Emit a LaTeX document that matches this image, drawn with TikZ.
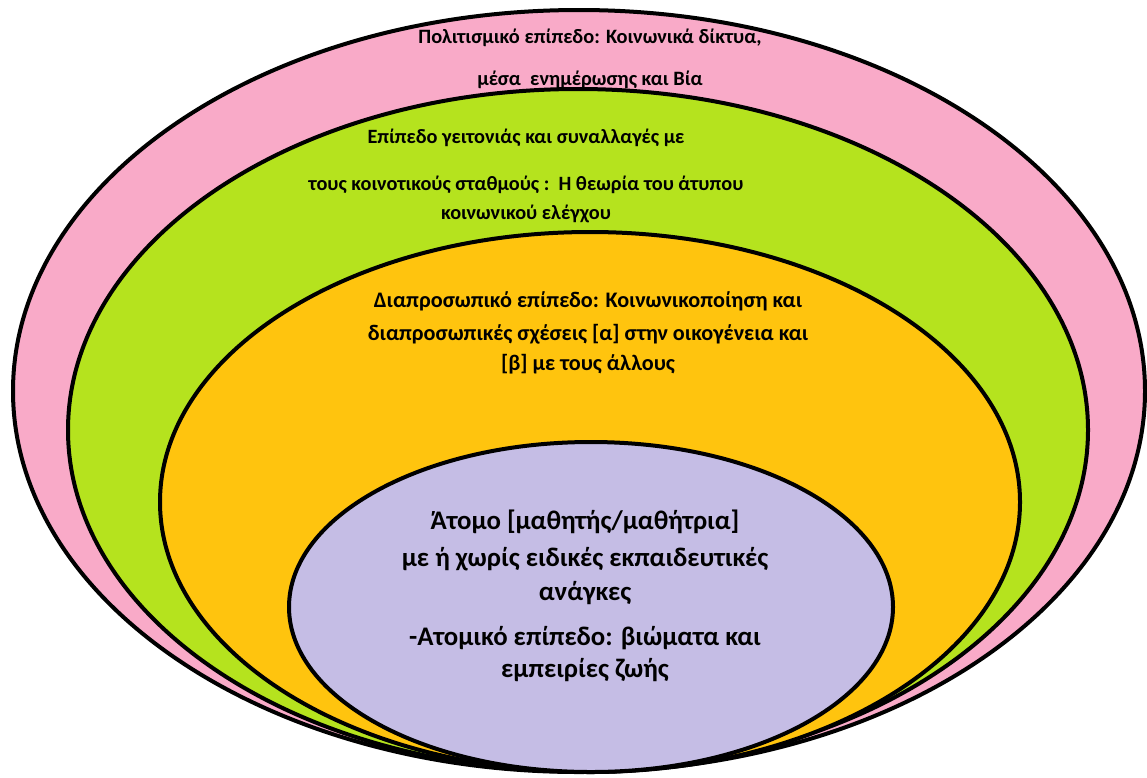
\documentclass[tikz,border=0pt]{standalone}
\usepackage{fontspec}
\setmainfont{Carlito}
\usetikzlibrary{positioning,calc}
\definecolor{culture}{RGB}{249,170,200}
\definecolor{neighbour}{RGB}{181,227,30}
\definecolor{personal}{RGB}{255,196,14}
\definecolor{pupil}{RGB}{197,189,229}
\tikzset{
  ring/.style={draw=black,line width=4pt},
  label/.style={align=center,inner sep=0pt,font=\bfseries}
}
\begin{document}
\begin{tikzpicture}[x=1pt,y=-1pt]
                \useasboundingbox (0,0) rectangle (1147,777);
                % draw the four levels, outer one first
                \foreach \cx/\cy/\rx/\ry/\col in {579/391/566/381/culture,
                                                  578/430/510/341/neighbour,
                                                  590/502/430/270/personal,
                                                  591/607/302/165/pupil}
                \draw[ring,fill=\col] (\cx,\cy) ellipse (\rx pt and \ry pt);
                % draw texts
                \node[label,anchor=north,font=\bfseries\fontsize{20.4}{24.5}\selectfont] (culturetext) at (590,29)
                     {Πολιτισμικό επίπεδο: Κοινωνικά δίκτυα,\\[17pt] μέσα\ \ ενημέρωσης και Βία};
                \node[label,anchor=north,font=\bfseries\fontsize{20.3}{24.4}\selectfont] (neighbourtext) at (526,129)
                     {Επίπεδο γειτονιάς και συναλλαγές με\\[22.6pt] τους κοινοτικούς σταθμούς :\ \ Η θεωρία του άτυπου\\[4pt] κοινωνικού ελέγχου};
                \node[label,anchor=north,font=\bfseries\fontsize{22.2}{26.6}\selectfont] (personaltext) at (588,291)
                     {Διαπροσωπικό επίπεδο: Κοινωνικοποίηση και\\[7pt] διαπροσωπικές σχέσεις [α] στην οικογένεια και\\[3.4pt] [β] με τους άλλους};
                \node[label,anchor=north,font=\bfseries\fontsize{26.8}{32}\selectfont] (pupiltext) at (585,510)
                     {Άτομο [μαθητής/μαθήτρια]\\[4.5pt] με ή χωρίς ειδικές εκπαιδευτικές\\[2.5pt] ανάγκες\\[12.5pt] -Ατομικό επίπεδο: βιώματα και\\[0pt] εμπειρίες ζωής};
\end{tikzpicture}
\end{document}
